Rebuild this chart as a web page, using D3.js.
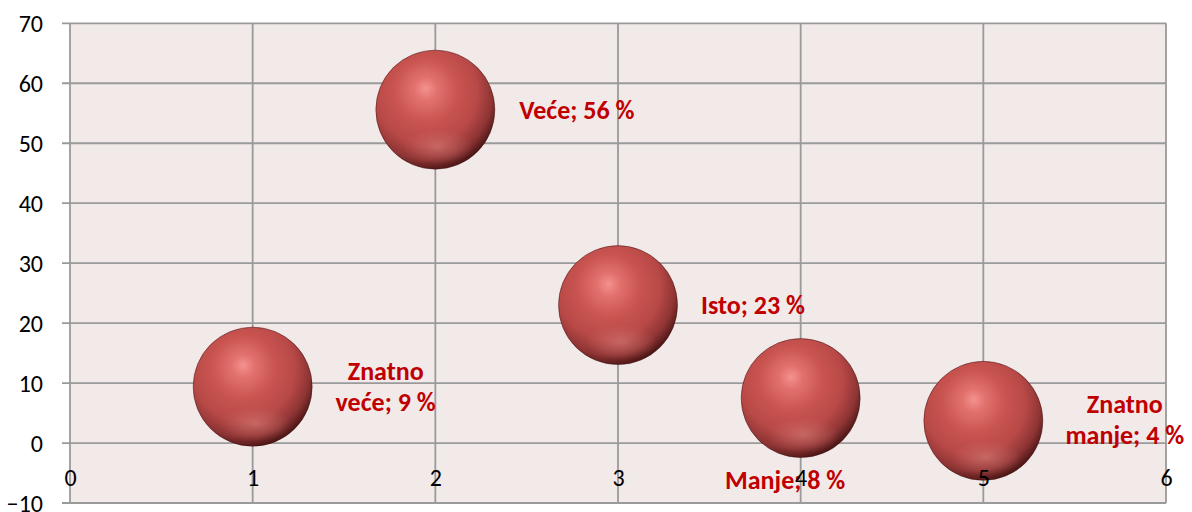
<!DOCTYPE html>
<html>
<head>
<meta charset="utf-8">
<script src="https://cdn.jsdelivr.net/npm/d3@7"></script>
<style>
  html, body { margin: 0; padding: 0; background: #ffffff; }
  svg { display: block; }
</style>
</head>
<body>
<svg id="chart" width="1192" height="512"></svg>
<script>
// ---- data ----
const categories = ["Znatno veće", "Veće", "Isto", "Manje", "Znatno manje"];
const xValues = [1, 2, 3, 4, 5];
const yValues = [9.4, 55.6, 23, 7.5, 3.7];
const bubbleSizes = [1, 1, 1, 1, 1];
const percentLabels = ["9 %", "56 %", "23 %", "8 %", "4 %"];
const labelLines = [["Znatno", "veće; 9 %"], ["Veće; 56 %"], ["Isto; 23 %"], ["Manje; 8 %"], ["Znatno", "manje; 4 %"]];
const xTicks = [0, 1, 2, 3, 4, 5, 6];
const yTicks = [-10, 0, 10, 20, 30, 40, 50, 60, 70];

// ---- layout (pixel offsets of data labels relative to bubble centre) ----
const labelOffsets = [[133, -7], [141.5, 9], [135, 8.5], [-15.5, 91], [141.5, -7.5]];
const lineHeight = 31;

(function () {
const svg = d3.select("#chart");
const pLeft = 70, pRight = 1166, pTop = 23.3, pBottom = 503;
const font = "Carlito, Calibri, Lato, sans-serif";

const x = d3.scaleLinear().domain([0, 6]).range([pLeft, pRight]);
const y = d3.scaleLinear().domain([-10, 70]).range([pBottom, pTop]);
const r = d3.scaleSqrt().domain([0, d3.max(bubbleSizes)]).range([0, 59.5]);

const defs = svg.append("defs");
const g1 = defs.append("radialGradient").attr("id", "sphere")
  .attr("cx", 0.42).attr("cy", 0.37).attr("r", 0.7).attr("fx", 0.42).attr("fy", 0.32);
[[0, "#f4928f"], [0.14, "#e2716d"], [0.38, "#c95450"], [0.62, "#b84947"], [0.8, "#8e3434"], [0.91, "#561a1a"], [1, "#280808"]]
  .forEach(([o, c]) => g1.append("stop").attr("offset", o).attr("stop-color", c));
const g2 = defs.append("radialGradient").attr("id", "refl")
  .attr("cx", 0.5).attr("cy", 0.5).attr("r", 0.5);
g2.append("stop").attr("offset", 0).attr("stop-color", "#dc8480").attr("stop-opacity", 0.55);
g2.append("stop").attr("offset", 0.6).attr("stop-color", "#d07470").attr("stop-opacity", 0.25);
g2.append("stop").attr("offset", 1).attr("stop-color", "#c86a68").attr("stop-opacity", 0);

// plot area background
svg.append("rect").attr("x", pLeft).attr("y", pTop)
  .attr("width", pRight - pLeft).attr("height", pBottom - pTop).attr("fill", "#f2e9e9");

// gridlines
const gridColor = "#9a9a9a";
svg.append("g").selectAll("line").data(yTicks).join("line")
  .attr("x1", pLeft - 8).attr("x2", pRight)
  .attr("y1", d => y(d)).attr("y2", d => y(d))
  .attr("stroke", gridColor).attr("stroke-width", 1.8);
svg.append("g").selectAll("line").data(xTicks).join("line")
  .attr("x1", d => x(d)).attr("x2", d => x(d))
  .attr("y1", pTop).attr("y2", pBottom)
  .attr("stroke", gridColor).attr("stroke-width", 1.8);

// y axis labels
const yAxis = d3.axisLeft(y).tickValues(yTicks).tickSize(0).tickPadding(27);
const yG = svg.append("g").attr("transform", `translate(${pLeft},0)`).call(yAxis);
yG.select(".domain").remove();
yG.selectAll("text").attr("font-family", font)
  .attr("font-size", 24).attr("fill", "#000").attr("dy", "0.34em");

// bubbles
const data = categories.map((c, i) => ({ c, x: xValues[i], y: yValues[i], s: bubbleSizes[i], lines: labelLines[i], off: labelOffsets[i] }));
const bub = svg.append("g").selectAll("g").data(data).join("g")
  .attr("transform", d => `translate(${x(d.x)},${y(d.y)})`);
bub.append("circle").attr("r", d => r(d.s)).attr("fill", "url(#sphere)")
  .attr("stroke", "#3a0c0c").attr("stroke-width", 0.8).attr("stroke-opacity", 0.6);
bub.append("ellipse").attr("cx", d => 0.05 * r(d.s)).attr("cy", d => 0.62 * r(d.s))
  .attr("rx", d => 0.6 * r(d.s)).attr("ry", d => 0.3 * r(d.s)).attr("fill", "url(#refl)");

// data labels
const lbl = svg.append("g").selectAll("text").data(data).join("text")
  .attr("text-anchor", "middle")
  .attr("font-family", font)
  .attr("font-weight", "bold").attr("font-size", 26).attr("fill", "#c00000");
lbl.selectAll("tspan").data(d => d.lines.map((t, k) => ({ t, k, d }))).join("tspan")
  .attr("x", e => x(e.d.x) + e.d.off[0])
  .attr("y", e => y(e.d.y) + e.d.off[1] + e.k * lineHeight)
  .text(e => e.t);

// x axis labels (drawn on top)
const xAxis = d3.axisBottom(x).tickValues(xTicks).tickSize(0).tickPadding(0).tickFormat(d3.format("d"));
const xG = svg.append("g").attr("transform", `translate(0,${y(0)})`).call(xAxis);
xG.select(".domain").remove();
xG.selectAll("text").attr("font-family", font)
  .attr("font-size", 24).attr("fill", "#000").attr("y", 43).attr("dy", 0);
})();
</script>
</body>
</html>
